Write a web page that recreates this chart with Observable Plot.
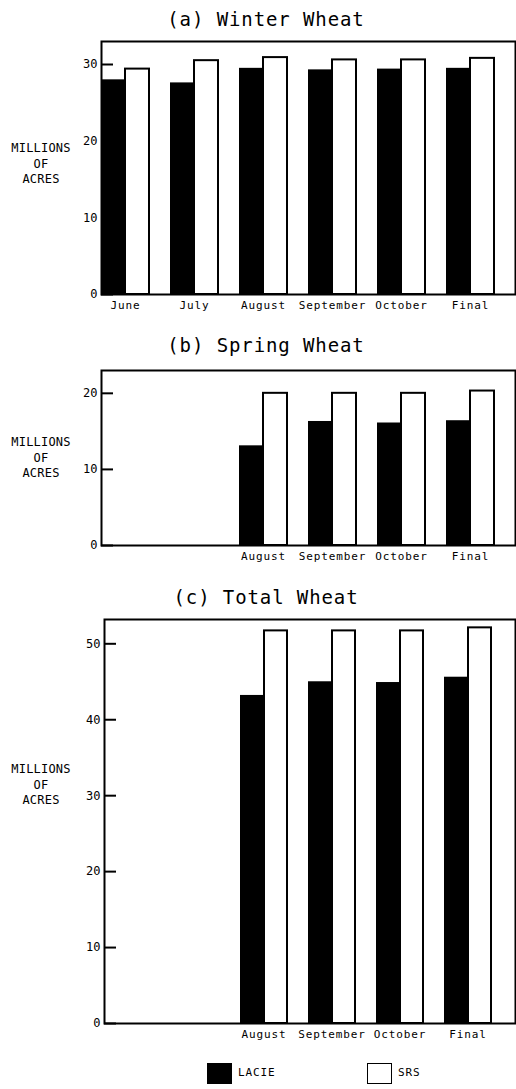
<!DOCTYPE html>
<html>
<head>
<meta charset="utf-8">
<script src="https://cdn.jsdelivr.net/npm/d3@7"></script>
<script src="https://cdn.jsdelivr.net/npm/@observablehq/plot@0.6"></script>
<style>
  body { margin: 0; background: #fff; }
  #page { position: relative; width: 516px; height: 1089px; overflow: hidden; font-family: "DejaVu Sans Mono", monospace; color: #000; background: #fff; }
  .title { position: absolute; left: 0; width: 532px; text-align: center; font-size: 19px; letter-spacing: 0.9px; line-height: 22px; }
  .ylab { position: absolute; left: 0; width: 82px; text-align: center; font-size: 12px; line-height: 15.5px; letter-spacing: 0.2px; }
  .panel { position: absolute; left: 0; }
  .panel svg { overflow: visible; }
  g[aria-label="x-axis tick label"] text { letter-spacing: 0.9px; }
  .legbox { position: absolute; box-sizing: border-box; }
  .legtxt { position: absolute; font-size: 11px; letter-spacing: 0.9px; line-height: 14px; }
</style>
</head>
<body>
<div id="page"></div>
<script>
// ---- data ----
const months = ["June", "July", "August", "September", "October", "Final"];
const winterMonths = ["June", "July", "August", "September", "October", "Final"];
const winterLacie = [28.0, 27.6, 29.5, 29.3, 29.4, 29.5];
const winterSrs   = [29.4, 30.5, 30.9, 30.6, 30.6, 30.8];
const springMonths = ["August", "September", "October", "Final"];
const springLacie = [13.1, 16.3, 16.1, 16.4];
const springSrs   = [20.0, 20.0, 20.0, 20.3];
const totalMonths = ["August", "September", "October", "Final"];
const totalLacie = [43.2, 45.0, 44.9, 45.6];
const totalSrs   = [51.7, 51.7, 51.7, 52.1];
const winterTicks = [0, 10, 20, 30];
const springTicks = [0, 10, 20];
const totalTicks = [0, 10, 20, 30, 40, 50];
const titles = ["(a) Winter Wheat", "(b) Spring Wheat", "(c) Total Wheat"];
const seriesNames = ["LACIE", "SRS"];
const yLabelLines = ["MILLIONS", "OF", "ACRES"];

const page = document.getElementById("page");

function panel(ms, lacie, srs, opts) {
  const rows = ms.map((m, i) => ({month: m, lacie: lacie[i], srs: srs[i]}));
  const mt = 2, mb = 24;
  return Plot.plot({
    width: 516,
    height: mt + opts.plotHeight + mb,
    marginTop: mt, marginBottom: mb, marginLeft: opts.marginLeft, marginRight: 1,
    style: {fontFamily: "DejaVu Sans Mono, monospace", fontSize: "11px", background: "white", color: "black", overflow: "visible"},
    x: {domain: months, paddingInner: 0.304, paddingOuter: 0.152, align: 0},
    y: {domain: [0, opts.yMax]},
    marks: [
      Plot.barY(rows, {x: "month", y: "srs", fill: "white", stroke: "black", strokeWidth: 2, insetLeft: 24}),
      Plot.barY(rows, {x: "month", y: "lacie", fill: "black", insetRight: 24}),
      Plot.frame({stroke: "black", strokeWidth: 2}),
      Plot.axisX({tickSize: 0, tickPadding: 7, fontSize: 11, label: null,
        tickFormat: d => ms.includes(d) ? d : ""}),
      Plot.axisY({ticks: opts.ticks, tickSize: -12, tickPadding: 16, strokeWidth: 2, fontSize: 12, label: null})
    ]
  });
}

function place(el, top) {
  const d = document.createElement("div");
  d.className = "panel";
  d.style.top = top + "px";
  d.appendChild(el);
  page.appendChild(d);
}
function addTitle(text, top) {
  const d = document.createElement("div");
  d.className = "title";
  d.style.top = top + "px";
  d.textContent = text;
  page.appendChild(d);
}
function addYLab(top) {
  const d = document.createElement("div");
  d.className = "ylab";
  d.style.top = top + "px";
  d.innerHTML = yLabelLines.join("<br>");
  page.appendChild(d);
}

addTitle(titles[0], 8);
place(panel(winterMonths, winterLacie, winterSrs, {yMax: 33, ticks: winterTicks, marginLeft: 101, plotHeight: 253}), 39);
addYLab(141);

addTitle(titles[1], 334);
place(panel(springMonths, springLacie, springSrs, {yMax: 23, ticks: springTicks, marginLeft: 101, plotHeight: 175}), 368);
addYLab(435);

addTitle(titles[2], 586);
place(panel(totalMonths, totalLacie, totalSrs, {yMax: 53.2, ticks: totalTicks, marginLeft: 104, plotHeight: 404}), 617);
addYLab(762);

// legend
function legItem(name, x, filled) {
  const b = document.createElement("div");
  b.className = "legbox";
  Object.assign(b.style, {left: x + "px", top: "1063px", width: "25px", height: "21px",
    background: filled ? "black" : "white", border: "1.5px solid black"});
  page.appendChild(b);
  const t = document.createElement("div");
  t.className = "legtxt";
  Object.assign(t.style, {left: (x + 31) + "px", top: "1066px"});
  t.textContent = name;
  page.appendChild(t);
}
legItem(seriesNames[0], 207, true);
legItem(seriesNames[1], 367, false);
</script>
</body>
</html>
